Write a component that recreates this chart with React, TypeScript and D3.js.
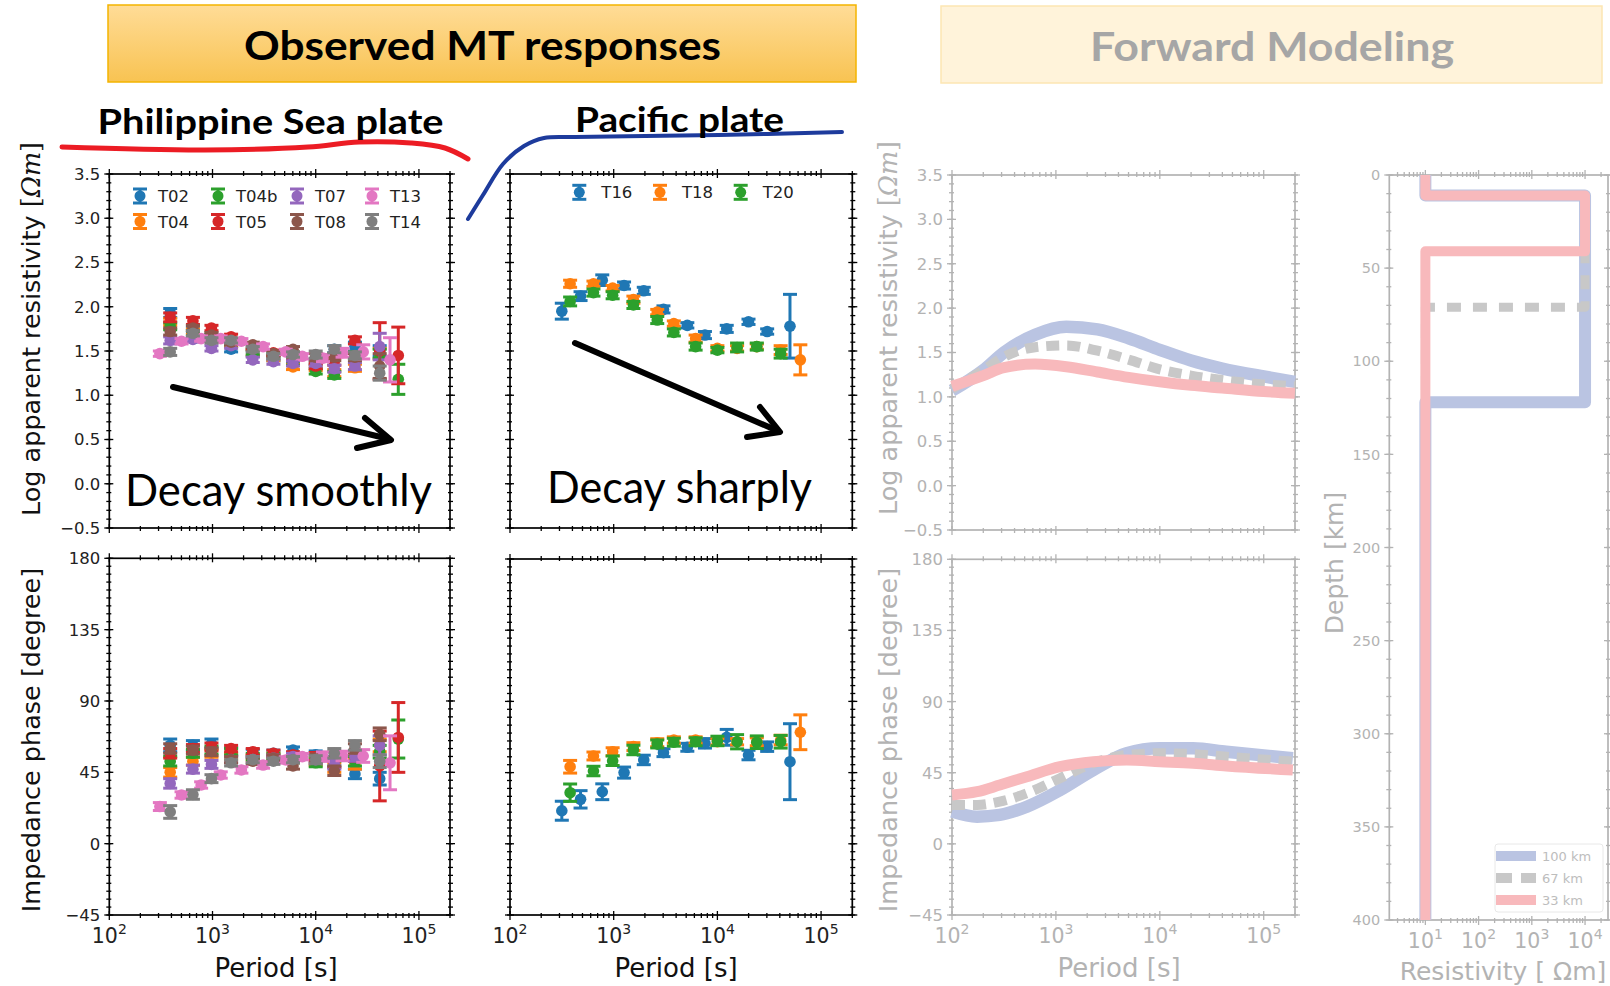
import React from "react";
import * as d3 from "d3";

// ---------------- DATA ----------------
const PERIOD_DOMAIN = [100, 2e5];
const RHO_DOMAIN = [-0.5, 3.5];
const PHASE_DOMAIN = [-45, 180];
const RHO_TICKS = [-0.5, 0, 0.5, 1.0, 1.5, 2.0, 2.5, 3.0, 3.5];
const PHASE_TICKS = [-45, 0, 45, 90, 135, 180];
const PERIOD_TICKS = [100, 1000, 10000, 100000];
const DEPTH_TICKS = [0, 50, 100, 150, 200, 250, 300, 350, 400];
const RES_TICKS = [10, 100, 1000, 10000];

// Philippine Sea plate
const PSP_STATIONS = ["T02", "T04", "T04b", "T05", "T07", "T08", "T13", "T14"];
const PSP_COLORS = ["#1f77b4", "#ff7f0e", "#2ca02c", "#d62728", "#9467bd", "#8c564b", "#e377c2", "#7f7f7f"];
const PSP_PERIODS = [389, 646, 977, 1514, 2455, 3890, 6026, 10000, 15136, 23988, 41687, 63096];
const T13_PERIODS = [309, 501, 776, 1202, 1905, 3090, 5129, 7413, 11749, 18197, 28840, 52481];

const RHO_T02 = [1.93, 1.74, 1.66, 1.52, 1.47, 1.42, 1.40, 1.38, 1.52, 1.55, 1.50];
const RHO_ERR_T02 = [0.05, 0.03, 0.03, 0.03, 0.03, 0.03, 0.03, 0.03, 0.04, 0.05, 0.06];
const PHS_T02 = [62, 62, 63, 58, 57, 57, 59, 56, 52, 44, 41];
const PHS_ERR_T02 = [4, 3, 3, 2.5, 2.5, 2, 2, 2.5, 3, 3, 4];

const RHO_T04 = [1.83, 1.72, 1.64, 1.58, 1.48, 1.42, 1.32, 1.31, 1.25, 1.31, 1.47];
const RHO_ERR_T04 = [0.04, 0.03, 0.03, 0.03, 0.03, 0.03, 0.03, 0.03, 0.04, 0.04, 0.06];
const PHS_T04 = [45, 52, 57, 55, 54, 55, 54, 52, 48, 50, 62];
const PHS_ERR_T04 = [3, 2.5, 2.5, 2, 2, 2, 2, 2.5, 3, 3, 4];

const RHO_T04B = [1.78, 1.70, 1.66, 1.60, 1.49, 1.45, 1.37, 1.27, 1.23, 1.45, 1.47, 1.18];
const RHO_ERR_T04B = [0.04, 0.03, 0.03, 0.03, 0.03, 0.03, 0.03, 0.03, 0.04, 0.04, 0.05, 0.17];
const PHS_T04B = [52, 57, 59, 58, 55, 55, 53, 51, 55, 52, 58, 66];
const PHS_ERR_T04B = [3, 2.5, 2.5, 2, 2, 2, 2, 2.5, 3, 3, 4, 12];

const RHO_T05 = [1.88, 1.84, 1.76, 1.66, 1.55, 1.48, 1.43, 1.33, 1.38, 1.62, 1.50, 1.45];
const RHO_ERR_T05 = [0.05, 0.04, 0.03, 0.03, 0.03, 0.03, 0.03, 0.03, 0.04, 0.04, 0.32, 0.32];
const PHS_T05 = [57, 60, 61, 60, 58, 57, 56, 55, 51, 55, 49, 67];
const PHS_ERR_T05 = [3, 2.5, 2.5, 2, 2, 2, 2, 2.5, 3, 3, 22, 22];

const RHO_T07 = [1.62, 1.63, 1.53, 1.56, 1.40, 1.38, 1.36, 1.36, 1.30, 1.33, 1.55];
const RHO_ERR_T07 = [0.04, 0.03, 0.03, 0.03, 0.03, 0.03, 0.03, 0.03, 0.04, 0.04, 0.15];
const PHS_T07 = [38, 47, 50, 53, 53, 54, 55, 53, 50, 55, 62];
const PHS_ERR_T07 = [3, 2.5, 2.5, 2, 2, 2, 2, 2.5, 3, 3, 6];

const RHO_T08 = [1.72, 1.76, 1.68, 1.60, 1.57, 1.47, 1.52, 1.43, 1.43, 1.43, 1.33];
const RHO_ERR_T08 = [0.04, 0.03, 0.03, 0.03, 0.03, 0.03, 0.03, 0.04, 0.04, 0.04, 0.14];
const PHS_T08 = [60, 59, 58, 53, 52, 54, 49, 54, 46, 60, 69];
const PHS_ERR_T08 = [3, 2.5, 2.5, 2, 2, 2, 2, 2.5, 3, 3, 4];

const RHO_T13 = [1.47, 1.61, 1.64, 1.64, 1.61, 1.55, 1.49, 1.44, 1.42, 1.48, 1.49, 1.40];
const RHO_ERR_T13 = [0.03, 0.03, 0.03, 0.03, 0.03, 0.03, 0.03, 0.03, 0.04, 0.05, 0.08, 0.25];
const PHS_T13 = [23.4, 30.7, 37, 43.3, 46.5, 49.6, 52.8, 54.9, 54.9, 55.3, 55.3, 51];
const PHS_ERR_T13 = [2.5, 2, 2, 2, 2, 2, 2, 2, 3, 3, 4, 17];

const RHO_T14 = [1.49, 1.70, 1.62, 1.62, 1.52, 1.44, 1.46, 1.46, 1.52, 1.45, 1.25];
const RHO_ERR_T14 = [0.04, 0.03, 0.03, 0.03, 0.03, 0.03, 0.03, 0.04, 0.04, 0.04, 0.08];
const PHS_T14 = [20, 31, 41, 51, 53, 52, 53, 53, 57, 62, 52];
const PHS_ERR_T14 = [4, 3, 2.5, 2, 2, 2, 2, 2.5, 3, 3, 4];

// Pacific plate
const PAC_STATIONS = ["T16", "T18", "T20"];
const PAC_COLORS = ["#1f77b4", "#ff7f0e", "#2ca02c"];
const T16_PERIODS = [316, 479, 776, 1259, 1950, 3020, 5129, 7586, 12303, 19953, 30200, 50119];
const T18_PERIODS = [380, 638, 977, 1549, 2630, 3802, 6166, 10000, 15488, 23988, 40738, 63096];
const T20_PERIODS = [380, 638, 977, 1549, 2630, 3802, 6166, 10000, 15488, 23988, 40738];

const RHO_T16 = [1.95, 2.12, 2.30, 2.24, 2.18, 1.97, 1.79, 1.68, 1.75, 1.83, 1.72, 1.78];
const RHO_ERR_T16 = [0.09, 0.05, 0.06, 0.04, 0.04, 0.04, 0.03, 0.04, 0.04, 0.03, 0.03, 0.36];
const PHS_T16 = [20.9, 28.1, 32.9, 45.0, 53, 57.6, 61, 63.5, 67.3, 56.1, 61.4, 51.9];
const PHS_ERR_T16 = [6, 5.5, 5, 3.5, 3, 2.5, 2.5, 3, 5, 3, 3, 24];

const RHO_T18 = [2.26, 2.26, 2.21, 2.08, 1.94, 1.81, 1.64, 1.53, 1.53, 1.55, 1.51, 1.40];
const RHO_ERR_T18 = [0.04, 0.03, 0.03, 0.04, 0.03, 0.03, 0.04, 0.03, 0.03, 0.03, 0.05, 0.17];
const PHS_T18 = [48.7, 55.5, 58.2, 61.4, 63.9, 65.6, 65.6, 64.5, 64.5, 64.5, 65.6, 70.5];
const PHS_ERR_T18 = [4, 2.5, 2.5, 2.5, 2.5, 2, 2, 2, 2, 2.5, 3, 11];

const RHO_T20 = [2.06, 2.16, 2.13, 2.02, 1.85, 1.71, 1.55, 1.51, 1.54, 1.55, 1.47];
const RHO_ERR_T20 = [0.05, 0.04, 0.04, 0.04, 0.04, 0.04, 0.04, 0.03, 0.05, 0.04, 0.05];
const PHS_T20 = [32.3, 46, 52.5, 59.3, 63.1, 64.2, 64.5, 65, 64.5, 64.2, 64.5];
const PHS_ERR_T20 = [5.5, 3, 3, 3, 2.5, 2.5, 2.5, 3, 4.5, 4, 4];

// Forward modeling
const FWD_LABELS = ["100 km", "67 km", "33 km"];
const FWD_COLORS = ["#bac4e2", "#c8c8c8", "#f8b9bc"];
const FWD_RHO_PERIODS = [100, 200, 316, 631, 1259, 2512, 5012, 10000, 19953, 39811, 100000, 199526];
const FWD_RHO_100 = [1.07, 1.30, 1.50, 1.70, 1.79, 1.76, 1.66, 1.53, 1.41, 1.32, 1.23, 1.17];
const FWD_RHO_67 = [1.09, 1.30, 1.45, 1.56, 1.58, 1.52, 1.42, 1.31, 1.24, 1.19, 1.14, 1.12];
const FWD_RHO_33 = [1.12, 1.24, 1.33, 1.37, 1.34, 1.28, 1.22, 1.17, 1.13, 1.10, 1.06, 1.04];
const FWD_PHS_PERIODS = [100, 174, 288, 525, 1096, 2291, 4786, 10000, 20893, 43652, 190546];
const FWD_PHS_100 = [20.4, 17.2, 18.3, 23.5, 34, 46.7, 57.3, 60.4, 60.4, 58.3, 54.1];
const FWD_PHS_67 = [24.6, 24.6, 26.7, 32, 41.5, 51, 56.2, 57.3, 56.8, 55.1, 52];
const FWD_PHS_33 = [30.9, 33, 37.2, 42.5, 48.8, 52, 53, 52, 51, 49.3, 46.7];

// Resistivity-depth models
const MODEL_RES = [10, 10, 10000, 10000, 10, 10];
const MODEL_DEPTH_100 = [0, 11, 11, 122, 122, 400];
const MODEL_DEPTH_67 = [0, 11, 11, 71, 71, 400];
const MODEL_DEPTH_33 = [0, 11, 11, 41, 41, 400];

// ---------------- HELPERS ----------------
const SANS = "'DejaVu Sans', sans-serif";
const TITLE_FONT = "Lato, 'Open Sans', sans-serif";

function minorLog(xs: any) {
  return xs.ticks().filter((t: number) => Math.abs(Math.log10(t) - Math.round(Math.log10(t))) > 1e-6);
}

function Frame(props: any) {
  const { xs, ys, color, yMajor, yMinor, yLabels, xLabels, yFmt, xMajor, labelColor, yLabelSize, stroke } = props;
  const [x0, x1] = xs.range();
  const r = ys.range();
  const top = Math.min(r[0], r[1]);
  const bot = Math.max(r[0], r[1]);
  const xMinor = minorLog(xs);
  const sw = stroke || 1.7;
  const ticks: any[] = [];
  const add = (a: number, b: number, c: number, d: number, k: string) =>
    ticks.push(<line key={k} x1={a} y1={b} x2={c} y2={d} stroke={color} strokeWidth={1.3} />);
  xMajor.forEach((t: number, i: number) => {
    const x = xs(t);
    add(x, bot - 4, x, bot + 5, "xb" + i);
    add(x, top - 5, x, top + 4, "xt" + i);
  });
  xMinor.forEach((t: number, i: number) => {
    const x = xs(t);
    add(x, bot - 2, x, bot + 3, "xbm" + i);
    add(x, top - 3, x, top + 2, "xtm" + i);
  });
  yMajor.forEach((t: number, i: number) => {
    const y = ys(t);
    add(x0 - 5, y, x0 + 4, y, "yl" + i);
    add(x1 - 4, y, x1 + 5, y, "yr" + i);
  });
  yMinor.forEach((t: number, i: number) => {
    const y = ys(t);
    add(x0 - 3, y, x0 + 2, y, "ylm" + i);
    add(x1 - 2, y, x1 + 3, y, "yrm" + i);
  });
  return (
    <g>
      <rect x={x0} y={top} width={x1 - x0} height={bot - top} fill="none" stroke={color} strokeWidth={sw} />
      {ticks}
      {yLabels &&
        yMajor.map((t: number, i: number) => (
          <text key={"yt" + i} x={x0 - 9} y={ys(t)} dy="0.36em" textAnchor="end"
            fontFamily={SANS} fontSize={yLabelSize || 16.5} fill={labelColor}>
            {yFmt(t)}
          </text>
        ))}
      {xLabels &&
        xMajor.map((t: number, i: number) => (
          <text key={"xl" + i} x={xs(t)} y={bot + 28} textAnchor="middle" fontFamily={SANS} fontSize={20.5} fill={labelColor}>
            10<tspan dy={-9} fontSize={14}>{Math.round(Math.log10(t))}</tspan>
          </text>
        ))}
    </g>
  );
}

function ErrSeries(props: any) {
  const { periods, vals, errs, color, xs, ys } = props;
  const cap = 7;
  return (
    <g>
      {vals.map((v: number, i: number) => {
        const x = xs(periods[i]);
        const yT = ys(v + errs[i]);
        const yB = ys(v - errs[i]);
        return (
          <g key={"e" + i} stroke={color} strokeWidth={3}>
            <line x1={x} x2={x} y1={yT} y2={yB} />
            <line x1={x - cap} x2={x + cap} y1={yT} y2={yT} />
            <line x1={x - cap} x2={x + cap} y1={yB} y2={yB} />
          </g>
        );
      })}
      {vals.map((v: number, i: number) => (
        <circle key={"m" + i} cx={xs(periods[i])} cy={ys(v)} r={5.8} fill={color} />
      ))}
    </g>
  );
}

function LegendHandle({ x, y, color }: any) {
  return (
    <g stroke={color} strokeWidth={3}>
      <line x1={x} x2={x} y1={y - 7} y2={y + 7} />
      <line x1={x - 7} x2={x + 7} y1={y - 7} y2={y - 7} />
      <line x1={x - 7} x2={x + 7} y1={y + 7} y2={y + 7} />
      <circle cx={x} cy={y} r={5.5} fill={color} stroke="none" />
    </g>
  );
}

export default function App() {
  // scales
  const xA = d3.scaleLog().domain(PERIOD_DOMAIN).range([109.3, 450]);
  const yA = d3.scaleLinear().domain(RHO_DOMAIN).range([528, 174]);
  const yB = d3.scaleLinear().domain(PHASE_DOMAIN).range([915, 558.3]);
  const xC = d3.scaleLog().domain(PERIOD_DOMAIN).range([510, 852.3]);
  const yC = d3.scaleLinear().domain(RHO_DOMAIN).range([528, 174]);
  const yD = d3.scaleLinear().domain(PHASE_DOMAIN).range([915, 559]);
  const xE = d3.scaleLog().domain(PERIOD_DOMAIN).range([952, 1295]);
  const yE = d3.scaleLinear().domain(RHO_DOMAIN).range([530, 175]);
  const yF = d3.scaleLinear().domain(PHASE_DOMAIN).range([915, 559.3]);
  const xG = d3.scaleLog().domain([2.1, 27000]).range([1389.3, 1608]);
  const yG = d3.scaleLinear().domain([0, 400]).range([175, 920]);

  const rhoFmt = d3.format(".1f");
  const phsFmt = d3.format("d");
  const rhoMinor = d3.range(-5, 36, 1).map((v) => v / 10);
  const phsMinor = d3.range(-45, 181, 5);
  const depthMinor = d3.range(0, 401, 10);

  const pspRho = [
    [PSP_PERIODS, RHO_T02, RHO_ERR_T02], [PSP_PERIODS, RHO_T04, RHO_ERR_T04],
    [PSP_PERIODS, RHO_T04B, RHO_ERR_T04B], [PSP_PERIODS, RHO_T05, RHO_ERR_T05],
    [PSP_PERIODS, RHO_T07, RHO_ERR_T07], [PSP_PERIODS, RHO_T08, RHO_ERR_T08],
    [T13_PERIODS, RHO_T13, RHO_ERR_T13], [PSP_PERIODS, RHO_T14, RHO_ERR_T14],
  ];
  const pspPhs = [
    [PSP_PERIODS, PHS_T02, PHS_ERR_T02], [PSP_PERIODS, PHS_T04, PHS_ERR_T04],
    [PSP_PERIODS, PHS_T04B, PHS_ERR_T04B], [PSP_PERIODS, PHS_T05, PHS_ERR_T05],
    [PSP_PERIODS, PHS_T07, PHS_ERR_T07], [PSP_PERIODS, PHS_T08, PHS_ERR_T08],
    [T13_PERIODS, PHS_T13, PHS_ERR_T13], [PSP_PERIODS, PHS_T14, PHS_ERR_T14],
  ];
  const pacRho = [
    [T16_PERIODS, RHO_T16, RHO_ERR_T16], [T18_PERIODS, RHO_T18, RHO_ERR_T18], [T20_PERIODS, RHO_T20, RHO_ERR_T20],
  ];
  const pacPhs = [
    [T16_PERIODS, PHS_T16, PHS_ERR_T16], [T18_PERIODS, PHS_T18, PHS_ERR_T18], [T20_PERIODS, PHS_T20, PHS_ERR_T20],
  ];

  const fwdRho = [FWD_RHO_100, FWD_RHO_67, FWD_RHO_33];
  const fwdPhs = [FWD_PHS_100, FWD_PHS_67, FWD_PHS_33];
  const models = [MODEL_DEPTH_100, MODEL_DEPTH_67, MODEL_DEPTH_33];
  const fwdWidth = [12.5, 10, 11];
  const fwdDash = [undefined, "13,8", undefined];

  const lineE = (vals: number[]) =>
    d3.line<number>().x((_, i) => xE(FWD_RHO_PERIODS[i])).y((v) => yE(v)).curve(d3.curveMonotoneX)(vals) || "";
  const lineF = (vals: number[]) =>
    d3.line<number>().x((_, i) => xE(FWD_PHS_PERIODS[i])).y((v) => yF(v)).curve(d3.curveMonotoneX)(vals) || "";
  const lineG = (depths: number[]) =>
    d3.line<number>().x((_, i) => xG(MODEL_RES[i])).y((d) => yG(d))(depths) || "";

  // annotation strokes (decorative hand-drawn lines)
  const RED_STROKE: [number, number][] = [[62, 147], [205, 150], [308, 147], [359, 142], [411, 143], [445, 148], [468, 159]];
  const BLUE_STROKE: [number, number][] = [[468, 219], [483, 195], [503, 164], [524, 146], [544, 138], [575, 137], [719, 135], [842, 132]];
  const smooth = d3.line().curve(d3.curveCatmullRom);

  const FG = "#b3b3b3";
  const pspLegendX = [140, 218, 297, 372];
  const pspLegendY = [196, 221.5];
  const pacLegendX = [579.3, 660, 740.7];

  return (
    <svg width={1610} height={986} style={{ position: "absolute", left: 0, top: 0, display: "block", background: "#fff" }}>
      <defs>
        <linearGradient id="obsGrad" x1="0" y1="0" x2="0" y2="1">
          <stop offset="0" stopColor="#ffdc97" />
          <stop offset="1" stopColor="#f8c352" />
        </linearGradient>
      </defs>
      <rect x={0} y={0} width={1610} height={986} fill="#fff" />

      {/* Title boxes */}
      <rect x={108} y={5} width={748} height={77} fill="url(#obsGrad)" stroke="#f4b400" strokeWidth={1.5} />
      <text x={244} y={60} textLength={477} lengthAdjust="spacingAndGlyphs" fontFamily={TITLE_FONT} fontWeight={700} fontSize={40} fill="#000">
        Observed MT responses
      </text>
      <rect x={941} y={6} width={661} height={77} fill="#fff3da" stroke="#fde6b3" strokeWidth={1.5} />
      <text x={1090} y={61} textLength={364} lengthAdjust="spacingAndGlyphs" fontFamily={TITLE_FONT} fontWeight={700} fontSize={41} fill="#a6a6a6">
        Forward Modeling
      </text>

      {/* plate annotations */}
      <path d={smooth(RED_STROKE) || ""} fill="none" stroke="#ec1c24" strokeWidth={5} strokeLinecap="round" />
      <path d={smooth(BLUE_STROKE) || ""} fill="none" stroke="#1d3b9c" strokeWidth={4} strokeLinecap="round" />
      <text x={97.5} y={134} textLength={346} lengthAdjust="spacingAndGlyphs" fontFamily={TITLE_FONT} fontWeight={700} fontSize={35} fill="#000">
        Philippine Sea plate
      </text>
      <text x={575} y={132} textLength={209} lengthAdjust="spacingAndGlyphs" fontFamily={TITLE_FONT} fontWeight={700} fontSize={35} fill="#000">
        Pacific plate
      </text>

      {/* ---------- Philippine Sea plate ---------- */}
      <Frame xs={xA} ys={yA} color="#000" labelColor="#222" yMajor={RHO_TICKS} yMinor={rhoMinor} yLabels xLabels={false} yFmt={rhoFmt} xMajor={PERIOD_TICKS} />
      {pspRho.map((s: any, i) => (
        <ErrSeries key={"pr" + i} periods={s[0]} vals={s[1]} errs={s[2]} color={PSP_COLORS[i]} xs={xA} ys={yA} />
      ))}
      {PSP_STATIONS.map((name, i) => {
        const col = Math.floor(i / 2);
        const row = i % 2;
        return (
          <g key={"pl" + i}>
            <LegendHandle x={pspLegendX[col]} y={pspLegendY[row]} color={PSP_COLORS[i]} />
            <text x={pspLegendX[col] + 18} y={pspLegendY[row] + 6} fontFamily={SANS} fontSize={16.5} fill="#222">{name}</text>
          </g>
        );
      })}
      <Frame xs={xA} ys={yB} color="#000" labelColor="#222" yMajor={PHASE_TICKS} yMinor={phsMinor} yLabels xLabels yFmt={phsFmt} xMajor={PERIOD_TICKS} />
      {pspPhs.map((s: any, i) => (
        <ErrSeries key={"pp" + i} periods={s[0]} vals={s[1]} errs={s[2]} color={PSP_COLORS[i]} xs={xA} ys={yB} />
      ))}

      {/* ---------- Pacific plate ---------- */}
      <Frame xs={xC} ys={yC} color="#000" labelColor="#222" yMajor={RHO_TICKS} yMinor={rhoMinor} yLabels={false} xLabels={false} yFmt={rhoFmt} xMajor={PERIOD_TICKS} />
      {pacRho.map((s: any, i) => (
        <ErrSeries key={"cr" + i} periods={s[0]} vals={s[1]} errs={s[2]} color={PAC_COLORS[i]} xs={xC} ys={yC} />
      ))}
      {PAC_STATIONS.map((name, i) => (
        <g key={"cl" + i}>
          <LegendHandle x={pacLegendX[i]} y={192.3} color={PAC_COLORS[i]} />
          <text x={pacLegendX[i] + 22} y={198.3} fontFamily={SANS} fontSize={16.5} fill="#222">{name}</text>
        </g>
      ))}
      <Frame xs={xC} ys={yD} color="#000" labelColor="#222" yMajor={PHASE_TICKS} yMinor={phsMinor} yLabels={false} xLabels yFmt={phsFmt} xMajor={PERIOD_TICKS} />
      {pacPhs.map((s: any, i) => (
        <ErrSeries key={"cp" + i} periods={s[0]} vals={s[1]} errs={s[2]} color={PAC_COLORS[i]} xs={xC} ys={yD} />
      ))}

      {/* axis labels (observed) */}
      <text transform="translate(40,329) rotate(-90)" textAnchor="middle" fontFamily={SANS} fontSize={25.5} fill="#111">
        Log apparent resistivity <tspan fontFamily="'DejaVu Serif', 'Liberation Serif', serif">[<tspan fontStyle="italic">Ωm</tspan>]</tspan>
      </text>
      <text transform="translate(40,740) rotate(-90)" textAnchor="middle" fontFamily={SANS} fontSize={25.5} fill="#111">
        Impedance phase [degree]
      </text>
      <text x={276} y={977} textAnchor="middle" fontFamily={SANS} fontSize={26} fill="#111">Period [s]</text>
      <text x={676} y={977} textAnchor="middle" fontFamily={SANS} fontSize={26} fill="#111">Period [s]</text>

      {/* arrows and notes */}
      <g stroke="#000" strokeWidth={6} fill="none" strokeLinecap="round" strokeLinejoin="round">
        <line x1={173} y1={387} x2={389} y2={439} />
        <polyline points="365,418 391,440 357,448" />
        <line x1={575} y1={343} x2={778} y2={431} />
        <polyline points="760,407 780,432 747,437" />
      </g>
      <text x={125} y={506} textLength={307} lengthAdjust="spacingAndGlyphs" fontFamily={TITLE_FONT} fontSize={44} fill="#000">
        Decay smoothly
      </text>
      <text x={547} y={503} textLength={265} lengthAdjust="spacingAndGlyphs" fontFamily={TITLE_FONT} fontSize={44} fill="#000">
        Decay sharply
      </text>

      {/* ---------- Forward modeling ---------- */}
      <Frame xs={xE} ys={yE} color={FG} labelColor={FG} yMajor={RHO_TICKS} yMinor={rhoMinor} yLabels xLabels={false} yFmt={rhoFmt} xMajor={PERIOD_TICKS} />
      {fwdRho.map((vals, i) => (
        <path key={"fr" + i} d={lineE(vals)} fill="none" stroke={FWD_COLORS[i]} strokeWidth={fwdWidth[i]} strokeDasharray={fwdDash[i]} />
      ))}
      <Frame xs={xE} ys={yF} color={FG} labelColor={FG} yMajor={PHASE_TICKS} yMinor={phsMinor} yLabels xLabels yFmt={phsFmt} xMajor={PERIOD_TICKS} />
      {fwdPhs.map((vals, i) => (
        <path key={"fp" + i} d={lineF(vals)} fill="none" stroke={FWD_COLORS[i]} strokeWidth={fwdWidth[i]} strokeDasharray={fwdDash[i]} />
      ))}
      <text transform="translate(897,328) rotate(-90)" textAnchor="middle" fontFamily={SANS} fontSize={25.5} fill={FG}>
        Log apparent resistivity <tspan fontFamily="'DejaVu Serif', 'Liberation Serif', serif">[<tspan fontStyle="italic">Ωm</tspan>]</tspan>
      </text>
      <text transform="translate(897,740) rotate(-90)" textAnchor="middle" fontFamily={SANS} fontSize={25.5} fill={FG}>
        Impedance phase [degree]
      </text>
      <text x={1119} y={977} textAnchor="middle" fontFamily={SANS} fontSize={26} fill={FG}>Period [s]</text>

      {/* depth model */}
      <Frame xs={xG} ys={yG} color={FG} labelColor={FG} yMajor={DEPTH_TICKS} yMinor={depthMinor} yLabels xLabels yFmt={phsFmt} xMajor={RES_TICKS} yLabelSize={14.5} />
      {models.map((depths, i) => (
        <path key={"md" + i} d={lineG(depths)} fill="none" stroke={FWD_COLORS[i]}
          strokeWidth={i === 0 ? 12 : i === 1 ? 9 : 10} strokeDasharray={i === 1 ? "14,12" : undefined}
          strokeLinejoin="round" />
      ))}
      <text transform="translate(1343,563) rotate(-90)" textAnchor="middle" fontFamily={SANS} fontSize={25} fill={FG}>
        Depth [km]
      </text>
      <text x={1503} y={980} textAnchor="middle" fontFamily={SANS} fontSize={25} fill={FG}>Resistivity [ Ωm]</text>
      <rect x={1495} y={844} width={108} height={68} rx={3} fill="#fff" stroke="#e8e8e8" strokeWidth={1} />
      {FWD_LABELS.map((lab, i) => (
        <g key={"gl" + i}>
          <line x1={1496} x2={1536} y1={856 + i * 22} y2={856 + i * 22} stroke={FWD_COLORS[i]} strokeWidth={10}
            strokeDasharray={i === 1 ? "16,9" : undefined} />
          <text x={1542} y={861 + i * 22} fontFamily={SANS} fontSize={13} fill="#bdbdbd">{lab}</text>
        </g>
      ))}
    </svg>
  );
}
